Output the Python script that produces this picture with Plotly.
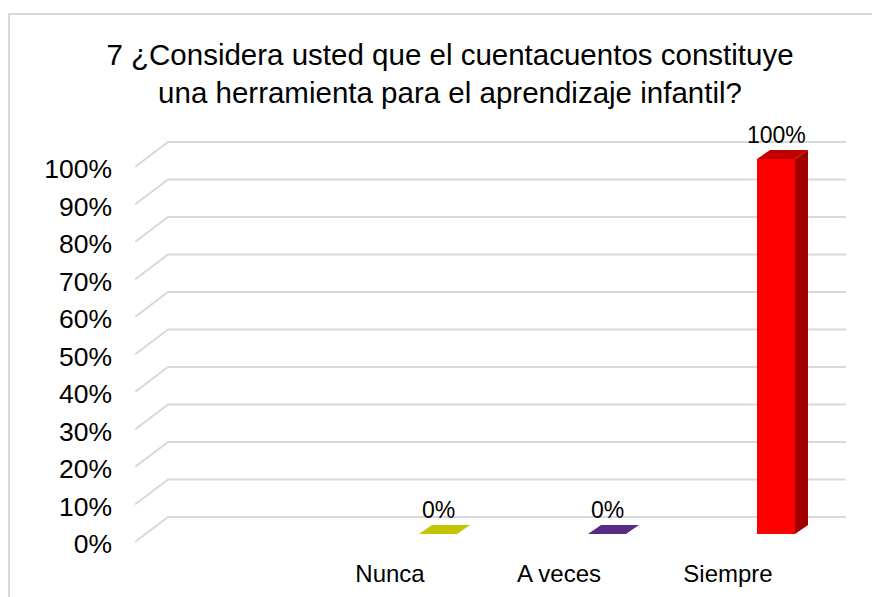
import plotly.graph_objects as go

# ---- data ----
categories = ["Nunca", "A veces", "Siempre"]
values = [0, 0, 100]
value_labels = ["0%", "0%", "100%"]
y_ticks = [0, 10, 20, 30, 40, 50, 60, 70, 80, 90, 100]
y_tick_labels = ["0%", "10%", "20%", "30%", "40%", "50%", "60%", "70%", "80%", "90%", "100%"]
title_text = "7 ¿Considera usted que el cuentacuentos constituye<br>una herramienta para el aprendizaje infantil?"

# ---- styles ----
front_colors = ["#BFBF00", "#5B2C83", "#FF0000"]
top_colors = ["#C3C300", "#5A2A82", "#C00000"]
side_colors = ["#8F8F00", "#3F1D5C", "#A20000"]
FONT = "Liberation Sans, Arial, sans-serif"
GRID = "#D9D9D9"

W, H = 880, 597
OFF = 8  # page body margin in the browser
# plot area in screen pixels
PL, PR, PT, PB = 135, 846, 120, 545
L, T = PL - OFF, PT - OFF
R, B = W - (PR - OFF), H - (PB - OFF)

PX_CAT = 169.0      # pixels per category
PX_PCT = 3.75       # pixels per percent
X0_PX = 438.0       # screen pixel of first category (front face centre)
ZERO_PX = 517.0     # screen pixel of back-wall 0%

x_range = [(PL - X0_PX) / PX_CAT, (PR - X0_PX) / PX_CAT]
y_range = [(ZERO_PX - PB) / PX_PCT, (ZERO_PX - PT) / PX_PCT]

wall_dx = 33 / PX_CAT          # floor depth, x
wall_dy = 25 / PX_PCT          # floor depth, y
bar_base = -17 / PX_PCT        # bar front sits in front of back wall
bar_w = 38 / PX_CAT
dep_dx = 13 / PX_CAT
dep_dy = 9 / PX_PCT

xs = list(range(len(categories)))

fig = go.Figure()

# front faces
fig.add_trace(go.Bar(
    x=xs, y=values, base=bar_base, width=bar_w,
    marker=dict(color=front_colors, line=dict(width=0)),
    hoverinfo="skip", showlegend=False))

# top and side faces
for k, v in zip(xs, values):
    top = bar_base + v
    xl, xr = k - bar_w / 2, k + bar_w / 2
    if v > 0:
        fig.add_trace(go.Scatter(
            x=[xr, xr + dep_dx, xr + dep_dx, xr, xr],
            y=[bar_base, bar_base + dep_dy, top + dep_dy, top, bar_base],
            fill="toself", fillcolor=side_colors[k], mode="lines",
            line=dict(width=0, color=side_colors[k]),
            hoverinfo="skip", showlegend=False))
    fig.add_trace(go.Scatter(
        x=[xl, xr, xr + dep_dx, xl + dep_dx, xl],
        y=[top, top, top + dep_dy, top + dep_dy, top],
        fill="toself", fillcolor=top_colors[k], mode="lines",
        line=dict(width=0, color=top_colors[k]),
        hoverinfo="skip", showlegend=False))

# gridlines (floor edge + back wall)
shapes = []
for v in y_ticks:
    path = (f"M {x_range[0]} {v - wall_dy} L {x_range[0] + wall_dx} {v} "
            f"L {x_range[1]} {v}")
    shapes.append(dict(type="path", path=path, xref="x", yref="y",
                       line=dict(color=GRID, width=2), layer="below"))

# outer border
pw, ph = PR - PL, PB - PT
shapes.append(dict(type="rect", xref="paper", yref="paper",
                   x0=(9 - PL) / pw, x1=(W + 30 - PL) / pw,
                   y0=(PB - (H + 30)) / ph, y1=(PB - 14) / ph,
                   line=dict(color=GRID, width=2), layer="below"))

annotations = []
for k, v in zip(xs, values):
    annotations.append(dict(
        x=k, y=bar_base + v + dep_dy, xref="x", yref="y",
        text=value_labels[k], showarrow=False, yanchor="middle", xanchor="center",
        yshift=15, font=dict(family=FONT, size=23, color="#000000")))

fig.update_layout(
    width=W, height=H,
    margin=dict(l=L, r=R, t=T, b=B),
    paper_bgcolor="white", plot_bgcolor="white",
    title=dict(text=title_text, x=(450 - OFF) / W, xanchor="center", xref="container",
               y=1 - 57 / H, yanchor="top", yref="container",
               font=dict(family=FONT, size=29.5, color="#000000")),
    xaxis=dict(range=x_range, showgrid=False, zeroline=False, showline=False,
               tickmode="array", tickvals=[k - 48 / PX_CAT for k in xs],
               ticktext=categories, ticks="", ticklabelstandoff=12,
               tickfont=dict(family=FONT, size=24, color="#000000")),
    yaxis=dict(range=y_range, showgrid=False, zeroline=False, showline=False,
               tickmode="array", tickvals=[v - wall_dy - 0.5 for v in y_ticks],
               ticktext=y_tick_labels, ticks="", ticklabelstandoff=22,
               tickfont=dict(family=FONT, size=26.5, color="#000000")),
    shapes=shapes, annotations=annotations,
    bargap=0, showlegend=False,
)

fig.write_html("out.html")
